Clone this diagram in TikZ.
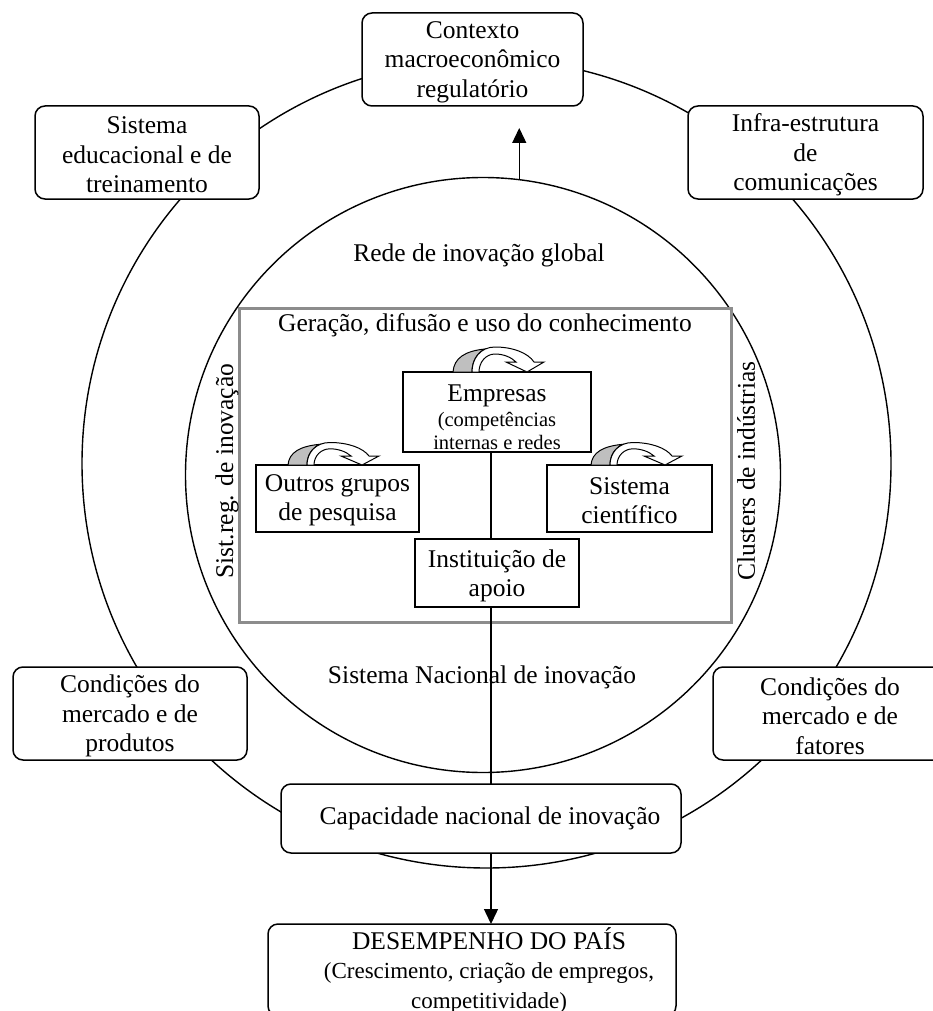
\documentclass[tikz,border=0pt]{standalone}
\usepackage{fontspec}
\setmainfont{Liberation Serif}
\usetikzlibrary{arrows.meta}
\newcommand\subsize{\fontsize{20.5}{23}\selectfont}
\newcommand\notesize{\fontsize{23}{27}\selectfont}
\tikzset{
  turn/.pic={
    % shaded underside of the curved arrow
    \filldraw[fill=black!25, line width=1pt]
      (0,0) .. controls (1,-14) and (12,-21) .. (32,-23)
      .. controls (24,-19) and (19,-11) .. (19,0) -- cycle;
    % the band and its head
    \filldraw[fill=white, line width=1pt]
      (19,0) .. controls (19,-13) and (27,-25) .. (42,-25)
      .. controls (60,-25) and (75,-19) .. (81,-10)
      -- (91,-10) -- (74,0) -- (53,-10) -- (63,-10)
      .. controls (58,-15) and (50,-18) .. (42,-18)
      .. controls (33,-18) and (26,-10) .. (26,0) -- cycle;
  }
}
\begin{document}
\begin{tikzpicture}[x=1pt,y=-1pt,
  every node/.style={inner sep=0pt, outer sep=0pt},
  body/.style={font=\fontsize{25.5}{29.5}\selectfont},
  txt/.style={align=center, body},
  rbox/.style={draw, line width=1.5pt, rounded corners=10pt, fill=white},
  sbox/.style={draw, line width=1.3pt, fill=white},
  ring/.style={draw, circle, line width=1.4pt},
  frame/.style={draw=black!45, line width=3pt},
  link/.style={line width=1.4pt},
  tip/.style={-{Triangle[length=15pt,width=14pt]}},
]
\useasboundingbox (0,0) rectangle (932,1011);

% rings
\node[ring, minimum size=809pt] (outer) at (486.5,463.5) {};
\node[ring, minimum size=595pt] (inner) at (483,475) {};

% outer boxes
\node[rbox, minimum width=221pt, minimum height=93pt] (ctx) at (472.5,59.5) {};
\node[txt] (ctx-t) at ([yshift=-2.5pt]ctx.center) {Contexto\\macroeconômico\\regulatório};
\node[rbox, minimum width=224pt, minimum height=93pt] (edu) at (147,152.5) {};
\node[txt] (edu-t) at ([yshift=-2.5pt]edu.center) {Sistema\\educacional e de\\treinamento};
\node[rbox, minimum width=235pt, minimum height=93pt] (infra) at (805.5,152.5) {};
\node[txt] (infra-t) at ([yshift=-2.5pt]infra.center) {Infra-estrutura\\de\\comunicações};
\node[rbox, minimum width=234pt, minimum height=93pt] (mprod) at (130,713.5) {};
\node[txt] (mprod-t) at ([yshift=-2.5pt]mprod.center) {Condições do\\mercado e de\\produtos};
\node[rbox, minimum width=234pt, minimum height=93pt] (mfat) at (830,713.5) {};
\node[txt] (mfat-t) at ([yshift=-2.5pt]mfat.center) {Condições do\\mercado e de\\fatores};
\node[rbox, minimum width=400pt, minimum height=69pt] (cap) at (481,818.5) {};
\node[txt] (cap-t) at (490,818.5) {Capacidade nacional de inovação};
\node[rbox, minimum width=408pt, minimum height=92pt] (desemp) at (472,970) {};
\node[txt] (desemp-t) at (489,970)
  {DESEMPENHO DO PAÍS\\\notesize (Crescimento, criação de empregos,\\\notesize competitividade)};

% labels of the rings
\node[body] (rede) at (479,255) {Rede de inovação global};
\node[body] (snac) at (482,677) {Sistema Nacional de inovação};

% knowledge frame
\draw[frame] (239,308) rectangle (731,622);
\node[body] (ger) at (485,325) {Geração, difusão e uso do conhecimento};
\node[body, rotate=90] (sreg) at (227,471) {Sist.reg. de inovação};
\node[body, rotate=90] (clus) at (746,471) {Clusters de indústrias};

% inner boxes
\node[sbox, minimum width=188pt, minimum height=80pt] (emp) at (497,412) {};
\node[align=center, font=\subsize] (emp-t) at ([yshift=-5pt]emp.center)
  {{\fontsize{25.5}{23}\selectfont Empresas}\\[2pt](competências\\internas e redes};
\node[sbox, minimum width=163pt, minimum height=67pt] (outros) at (337.5,498.5) {};
\node[txt] (outros-t) at ([yshift=-2pt]outros.center) {Outros grupos\\de pesquisa};
\node[sbox, minimum width=165pt, minimum height=67pt] (sci) at (629.5,498.5) {};
\node[txt] (sci-t) at ([yshift=-2pt]sci.center) {Sistema\\científico};
\node[sbox, minimum width=164pt, minimum height=68pt] (inst) at (497,573) {};
\node[txt] (inst-t) at ([yshift=-3pt]inst.center) {Instituição de\\apoio};

% curved arrows on top of the inner boxes
\pic at (453,372) {turn};
\pic[yscale=0.9] at (288,465) {turn};
\pic[yscale=0.9] at (591,465) {turn};

% connectors
\coordinate (spine) at (491,0);
\coordinate (ctxtip) at (519,128);
\draw[link] (spine |- emp.south) -- (spine |- inst.north);
\draw[link] (spine |- inst.south) -- (spine |- cap.north);
\draw[link, tip] (spine |- cap.south) -- (spine |- desemp.north);
\draw[link, tip] (inner.83) -- (inner.83 |- ctxtip);
\end{tikzpicture}
\end{document}
